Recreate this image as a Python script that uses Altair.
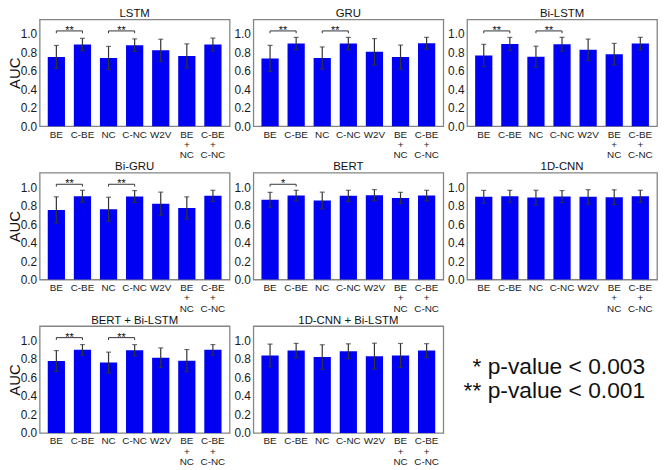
import altair as alt
import pandas as pd

FONT = "Liberation Sans"
BLUE = "#0000f2"

features = ["BE", "C-BE", "NC", "C-NC", "W2V", "BE + NC", "C-BE + C-NC"]
models = ["LSTM", "GRU", "Bi-LSTM", "Bi-GRU", "BERT", "1D-CNN",
          "BERT + Bi-LSTM", "1D-CNN + Bi-LSTM"]

auc_lstm = [0.749, 0.883, 0.738, 0.876, 0.820, 0.760, 0.883]
err_lstm = [0.124, 0.067, 0.125, 0.068, 0.120, 0.130, 0.070]
auc_gru = [0.733, 0.893, 0.737, 0.893, 0.804, 0.747, 0.897]
err_gru = [0.140, 0.067, 0.120, 0.067, 0.143, 0.130, 0.064]
auc_bilstm = [0.765, 0.890, 0.751, 0.886, 0.826, 0.779, 0.893]
err_bilstm = [0.120, 0.070, 0.114, 0.075, 0.116, 0.116, 0.068]
auc_bigru = [0.753, 0.901, 0.760, 0.898, 0.820, 0.774, 0.905]
err_bigru = [0.141, 0.064, 0.130, 0.064, 0.125, 0.120, 0.060]
auc_bert = [0.862, 0.908, 0.855, 0.905, 0.912, 0.883, 0.908]
err_bert = [0.080, 0.057, 0.090, 0.060, 0.060, 0.060, 0.057]
auc_cnn = [0.894, 0.901, 0.887, 0.898, 0.894, 0.890, 0.901]
err_cnn = [0.070, 0.064, 0.078, 0.064, 0.078, 0.080, 0.064]
auc_bert_bilstm = [0.777, 0.898, 0.760, 0.894, 0.813, 0.781, 0.898]
err_bert_bilstm = [0.113, 0.057, 0.113, 0.060, 0.106, 0.120, 0.057]
auc_cnn_bilstm = [0.837, 0.890, 0.820, 0.883, 0.830, 0.837, 0.890]
err_cnn_bilstm = [0.122, 0.078, 0.133, 0.080, 0.140, 0.130, 0.075]

auc_values = [auc_lstm, auc_gru, auc_bilstm, auc_bigru, auc_bert, auc_cnn,
              auc_bert_bilstm, auc_cnn_bilstm]
err_values = [err_lstm, err_gru, err_bilstm, err_bigru, err_bert, err_cnn,
              err_bert_bilstm, err_cnn_bilstm]

# significance brackets
sig_models = ["LSTM", "LSTM", "GRU", "GRU", "Bi-LSTM", "Bi-LSTM", "Bi-GRU",
              "Bi-GRU", "BERT", "BERT + Bi-LSTM", "BERT + Bi-LSTM"]
sig_left = ["BE", "NC", "BE", "NC", "BE", "NC", "BE", "NC", "BE", "BE", "NC"]
sig_right = ["C-BE", "C-NC", "C-BE", "C-NC", "C-BE", "C-NC", "C-BE", "C-NC",
             "C-BE", "C-BE", "C-NC"]
sig_labels = ["**", "**", "**", "**", "**", "**", "**", "**", "*", "**", "**"]

legend_lines = ["* p-value < 0.003", "** p-value < 0.001"]
y_ticks = [0.0, 0.2, 0.4, 0.6, 0.8, 1.0]

rows = []
for m, aucs, errs in zip(models, auc_values, err_values):
    for f, a, e in zip(features, aucs, errs):
        rows.append({"model": m, "feature": f, "auc": a, "lo": a - e, "hi": a + e})
df = pd.DataFrame(rows)
sig = pd.DataFrame({"model": sig_models, "feature": sig_left,
                    "feature2": sig_right, "label": sig_labels})

W, H = 192, 108
yscale = alt.Scale(domain=[0, 1.155], nice=False, zero=True)
xscale = alt.Scale(paddingInner=0, paddingOuter=0.14)
INK = "#333333"


def panel(model, show_title):
    d = df[df.model == model]
    s = sig[sig.model == model]
    xaxis = alt.Axis(labelAngle=0, labelExpr="split(datum.label, ' ')",
                     labelFontSize=10, labelLineHeight=10.5, labelPadding=3,
                     ticks=False, domain=False, labelColor="#1a1a1a",
                     labelBaseline="top", labelOverlap=False)
    yaxis = alt.Axis(values=y_ticks, tickCount=len(y_ticks), format=".1f",
                     labelFontSize=12, labelPadding=3, ticks=False,
                     domain=False, labelColor="#1a1a1a", titleFontSize=15,
                     titleFontWeight="normal", titlePadding=-2,
                     titleColor="#111111", labelOverlap=False, labelFlush=False)
    bars = alt.Chart(d).mark_bar(color=BLUE, width=alt.RelativeBandSize(0.66)).encode(
        x=alt.X("feature:N", sort=features, title=None, scale=xscale, axis=xaxis),
        y=alt.Y("auc:Q", scale=yscale, axis=yaxis,
                title="AUC" if show_title else None),
    )
    err = alt.Chart(d).mark_rule(color=INK, strokeWidth=1.2).encode(
        x=alt.X("feature:N", sort=features),
        y=alt.Y("lo:Q"), y2="hi:Q",
    )
    cap_hi = alt.Chart(d).mark_tick(color=INK, size=5, thickness=1.2).encode(
        x=alt.X("feature:N", sort=features), y=alt.Y("hi:Q"))
    cap_lo = alt.Chart(d).mark_tick(color=INK, size=5, thickness=1.2).encode(
        x=alt.X("feature:N", sort=features), y=alt.Y("lo:Q"))
    layers = [bars, err, cap_hi, cap_lo]
    if len(s):
        hline = alt.Chart(s).mark_rule(color=INK, strokeWidth=1).encode(
            x=alt.X("feature:N", sort=features, bandPosition=0.5),
            x2=alt.X2("feature2"),
            y=alt.datum(1.03),
        )
        legs_df = pd.concat([
            s[["model", "feature"]],
            s[["model", "feature2"]].rename(columns={"feature2": "feature"}),
        ])
        legs = alt.Chart(legs_df).mark_rule(color=INK, strokeWidth=1).encode(
            x=alt.X("feature:N", sort=features),
            y=alt.datum(1.005), y2=alt.datum(1.03),
        )
        stars = alt.Chart(s).mark_text(fontSize=11, font=FONT, color="#111111",
                                       baseline="alphabetic", dy=3).encode(
            x=alt.X("feature:N", sort=features, bandPosition=1.0),
            y=alt.datum(1.03),
            text="label:N",
        )
        layers += [hline, legs, stars]
    return alt.layer(*layers).properties(
        width=W, height=H,
        title=alt.TitleParams(model, fontSize=11.5, fontWeight="normal",
                              font=FONT, color="#111111", offset=0,
                              anchor="middle"),
    )


legend_df = pd.DataFrame({"idx": list(range(len(legend_lines))),
                          "line": legend_lines})
legend = alt.Chart(legend_df).mark_text(
    align="right", baseline="alphabetic", fontSize=23, font=FONT, color="#111111"
).encode(
    text="line:N",
    x=alt.value(180),
    y=alt.Y("idx:O", axis=None, scale=alt.Scale(range=[48, 73], padding=0)),
).properties(width=W, height=H, view=alt.ViewBackground(stroke="transparent"))

panels = [panel(m, i % 3 == 0) for i, m in enumerate(models)] + [legend]

chart = alt.concat(*panels, columns=3, spacing={"row": 47, "column": 24},
                   bounds="flush").properties(
    padding={"left": -2, "top": -4, "right": 0, "bottom": 0}
).configure_view(
    stroke="#858585", strokeWidth=1.3
).configure_axis(
    labelFont=FONT, titleFont=FONT, grid=False
).configure_title(font=FONT)

chart.save("out.html", embed_options={"renderer": "svg", "actions": False})
